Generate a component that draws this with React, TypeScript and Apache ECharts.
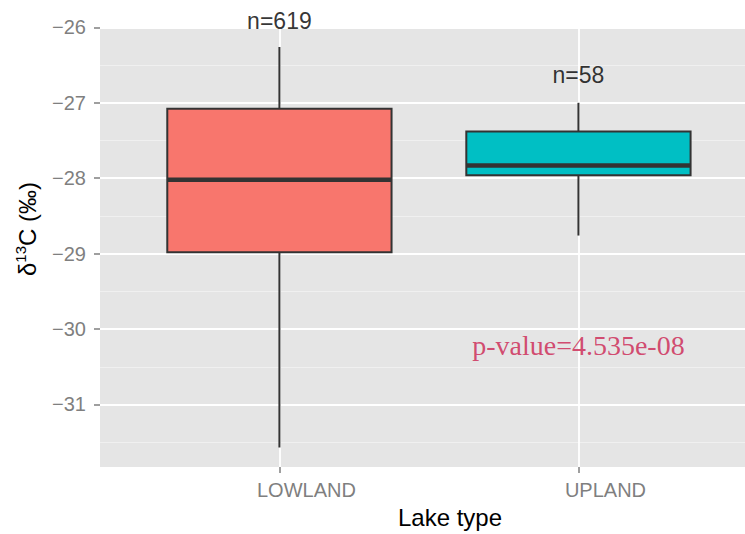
import { useEffect, useRef } from 'react';
import * as echarts from 'echarts';

// ---- data ----
const categories = ['LOWLAND', 'UPLAND'];
const categoryPositions = [1, 2];
// [lower whisker, Q1, median, Q3, upper whisker]
const lowlandStats = [-31.57, -28.98, -28.02, -27.08, -26.26];
const uplandStats = [-28.76, -27.96, -27.83, -27.38, -27.0];
const boxColors = ['#F8766D', '#00BFC4'];
const sampleLabels = ['n=619', 'n=58'];
const sampleLabelY = [-25.92, -26.63];
const pValueText = 'p-value=4.535e-08';
const pValuePosition = [2, -30.22];
const yMajorTicks = [-31, -30, -29, -28, -27, -26];
const yMinorTicks = [-31.5, -30.5, -29.5, -28.5, -27.5, -26.5];
const yRange = [-31.83, -25.995];
const xRange = [0.4, 2.557];
const boxWidth = 0.75;

const SANS = '"Liberation Sans", Arial, Helvetica, sans-serif';
const SERIF = '"Liberation Serif", "Times New Roman", serif';
const AXIS_GREY = '#7F7F7F';
const LINE_DARK = '#333333';

const fmtNum = (v: number) => (v < 0 ? '\u2212' : '') + String(Math.abs(v));

export default function App() {
  const ref = useRef<HTMLDivElement>(null);

  useEffect(() => {
    document.body.style.margin = '0';
    if (!ref.current) return;
    const chart = echarts.init(ref.current, null, { renderer: 'svg' });

    const boxData = [
      [categoryPositions[0], ...lowlandStats],
      [categoryPositions[1], ...uplandStats],
    ];

    const option: any = {
      animation: false,
      grid: {
        left: 100,
        right: 0,
        top: 27,
        bottom: 61,
        show: true,
        backgroundColor: '#E5E5E5',
        borderWidth: 0,
      },
      xAxis: {
        type: 'value',
        min: xRange[0],
        max: xRange[1],
        axisLine: { show: false },
        axisTick: {
          show: true,
          length: 6,
          customValues: categoryPositions,
          lineStyle: { color: AXIS_GREY, width: 1.5 },
        },
        axisLabel: {
          show: true,
          customValues: categoryPositions,
          formatter: (v: number) => categories[categoryPositions.indexOf(v)] ?? '',
          margin: 13,
          padding: [0, 0, 0, 54],
          fontSize: 20,
          color: AXIS_GREY,
          fontFamily: SANS,
        },
        splitLine: { show: true, lineStyle: { color: '#FFFFFF', width: 1.8 } },
        name: 'Lake type',
        nameLocation: 'middle',
        nameGap: 35,
        nameTextStyle: { fontSize: 24, color: '#000000', fontFamily: SANS, padding: [0, 0, 0, 55] },
      },
      yAxis: [
        {
          type: 'value',
          min: yRange[0],
          max: yRange[1],
          axisLine: { show: false },
          axisTick: {
            show: true,
            length: 6,
            customValues: yMajorTicks,
            lineStyle: { color: AXIS_GREY, width: 1.5 },
          },
          axisLabel: {
            show: true,
            customValues: yMajorTicks,
            formatter: (v: number) => fmtNum(v),
            margin: 14,
            fontSize: 20,
            color: AXIS_GREY,
            fontFamily: SANS,
          },
          splitLine: { show: true, lineStyle: { color: '#FFFFFF', width: 1.8 } },
        },
        {
          type: 'value',
          min: yRange[0],
          max: yRange[1],
          position: 'left',
          axisLine: { show: false },
          axisTick: { show: false, customValues: yMinorTicks },
          axisLabel: { show: false, customValues: yMinorTicks },
          splitLine: { show: true, lineStyle: { color: '#F2F2F2', width: 0.8 } },
        },
      ],
      graphic: [
        {
          type: 'text',
          x: 27,
          y: 229,
          rotation: Math.PI / 2,
          silent: true,
          style: {
            text: '{a|\u03B4}{sup|13}{a|C (\u2030)}',
            align: 'center',
            verticalAlign: 'middle',
            fill: '#000000',
            rich: {
              a: { fontSize: 24, fontFamily: SANS, fill: '#000000', lineHeight: 28 },
              sup: { fontSize: 15, fontFamily: SANS, fill: '#000000', lineHeight: 28, verticalAlign: 'top', padding: [0, 0, 8, 0] },
            },
          },
        },
      ],
      series: [
        {
          type: 'custom',
          xAxisIndex: 0,
          yAxisIndex: 0,
          silent: true,
          encode: { x: 0, y: [1, 2, 3, 4, 5] },
          data: boxData,
          renderItem: (params: any, api: any) => {
            const x = api.value(0);
            const low = api.coord([x, api.value(1)]);
            const q1 = api.coord([x, api.value(2)]);
            const med = api.coord([x, api.value(3)]);
            const q3 = api.coord([x, api.value(4)]);
            const high = api.coord([x, api.value(5)]);
            const w = api.size([boxWidth, 0])[0];
            const fill = boxColors[params.dataIndex];
            return {
              type: 'group',
              children: [
                { type: 'line', shape: { x1: q3[0], y1: q3[1], x2: high[0], y2: high[1] }, style: { stroke: LINE_DARK, lineWidth: 2 } },
                { type: 'line', shape: { x1: low[0], y1: low[1], x2: q1[0], y2: q1[1] }, style: { stroke: LINE_DARK, lineWidth: 2 } },
                { type: 'rect', shape: { x: q3[0] - w / 2, y: q3[1], width: w, height: q1[1] - q3[1] }, style: { fill, stroke: LINE_DARK, lineWidth: 2 } },
                { type: 'line', shape: { x1: med[0] - w / 2, y1: med[1], x2: med[0] + w / 2, y2: med[1] }, style: { stroke: LINE_DARK, lineWidth: 4.5 } },
              ],
            };
          },
        },
        {
          type: 'scatter',
          silent: true,
          clip: false,
          symbolSize: 1,
          itemStyle: { color: 'rgba(0,0,0,0)' },
          data: sampleLabels.map((t, i) => [categoryPositions[i], sampleLabelY[i], t]),
          label: {
            show: true,
            position: 'inside',
            formatter: (p: any) => p.value[2],
            fontSize: 23,
            color: '#000000',
            fontFamily: SANS,
          },
        },
        {
          type: 'scatter',
          silent: true,
          clip: false,
          symbolSize: 1,
          itemStyle: { color: 'rgba(0,0,0,0)' },
          data: [[pValuePosition[0], pValuePosition[1], pValueText]],
          label: {
            show: true,
            position: 'inside',
            formatter: (p: any) => p.value[2],
            fontSize: 28,
            color: '#CC2250',
            fontFamily: SERIF,
          },
        },
      ],
    };

    chart.setOption(option);
    return () => chart.dispose();
  }, []);

  return (
    <div
      ref={ref}
      style={{ position: 'fixed', left: 0, top: 0, width: 745, height: 534, background: '#FFFFFF' }}
    />
  );
}
